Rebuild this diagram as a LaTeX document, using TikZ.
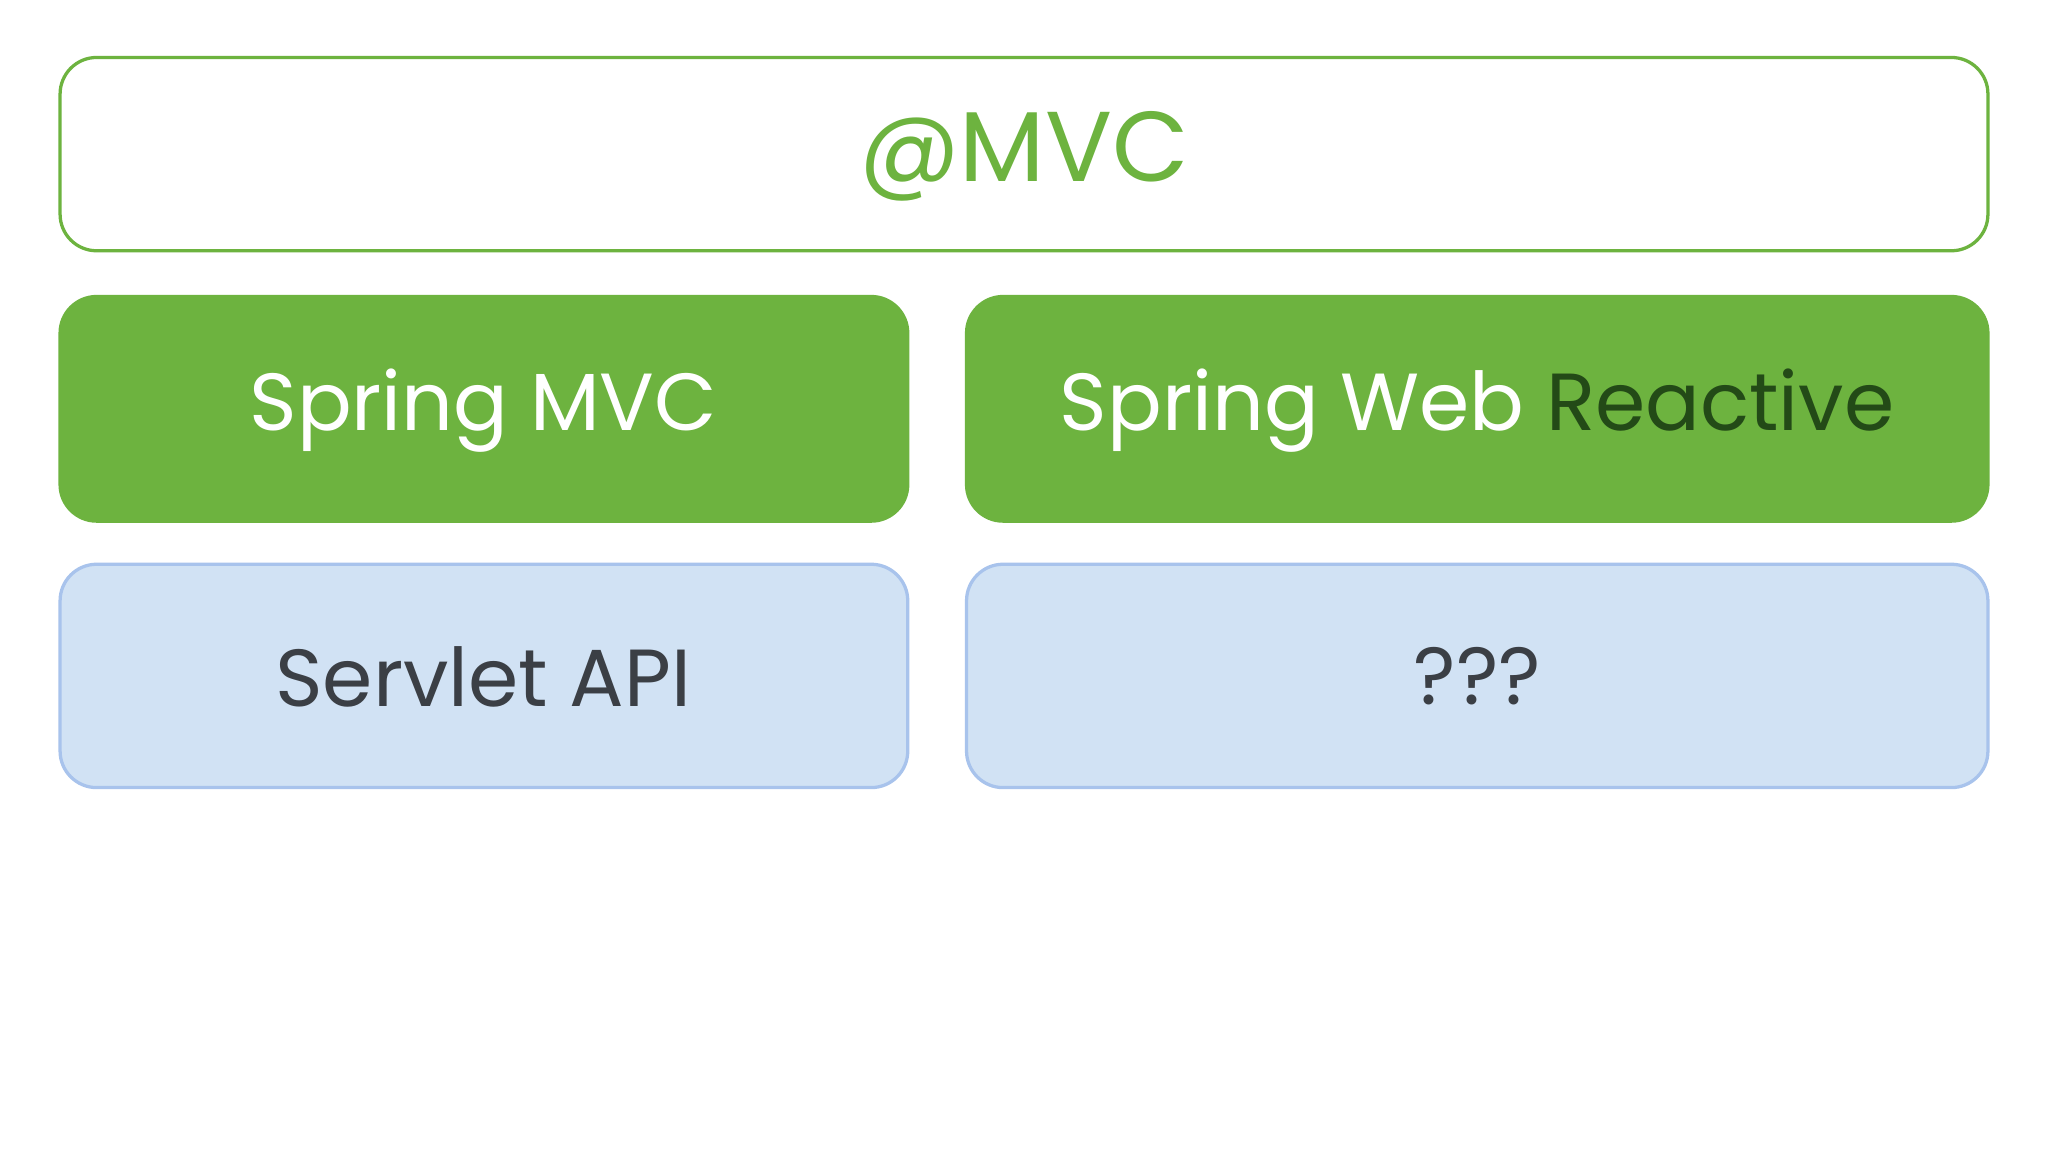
\documentclass[tikz,border=0pt]{standalone}
\usepackage{fontspec}
\setmainfont{Poppins}
\definecolor{sgreen}{HTML}{6DB33F}
\definecolor{dgreen}{HTML}{234A17}
\definecolor{bfill}{HTML}{D1E2F4}
\definecolor{bline}{HTML}{A8C3EC}
\definecolor{tgray}{HTML}{3B3F45}
\begin{document}
\begin{tikzpicture}[x=1pt,y=-1pt,
  box/.style={rounded corners=28pt,line width=2.5pt}]
\useasboundingbox (0,0) rectangle (1568,882);
\fill[white] (0,0) rectangle (1568,882);
\draw[box,draw=sgreen,fill=white] (46,44) rectangle (1522,192);
\node (mvc) at (784,120) {\fontsize{76}{80}\selectfont\color{sgreen}@MVC};
\draw[box,draw=sgreen,fill=sgreen] (46,227) rectangle (695,399);
\node (smvc) at (370,314) {\fontsize{62}{66}\selectfont\color{white}Spring MVC};
\draw[box,draw=sgreen,fill=sgreen] (740,227) rectangle (1522,399);
\node (swr) at (1131,314) {\fontsize{62}{66}\selectfont\color{white}Spring Web \color{dgreen}Reactive};
\draw[box,draw=bline,fill=bfill] (46,432) rectangle (695,603);
\node (sapi) at (370,518) {\fontsize{62}{66}\selectfont\color{tgray}Servlet API};
\draw[box,draw=bline,fill=bfill] (740,432) rectangle (1522,603);
\node (q) at (1131,518) {\fontsize{62}{66}\selectfont\color{tgray}???};
\end{tikzpicture}
\end{document}
